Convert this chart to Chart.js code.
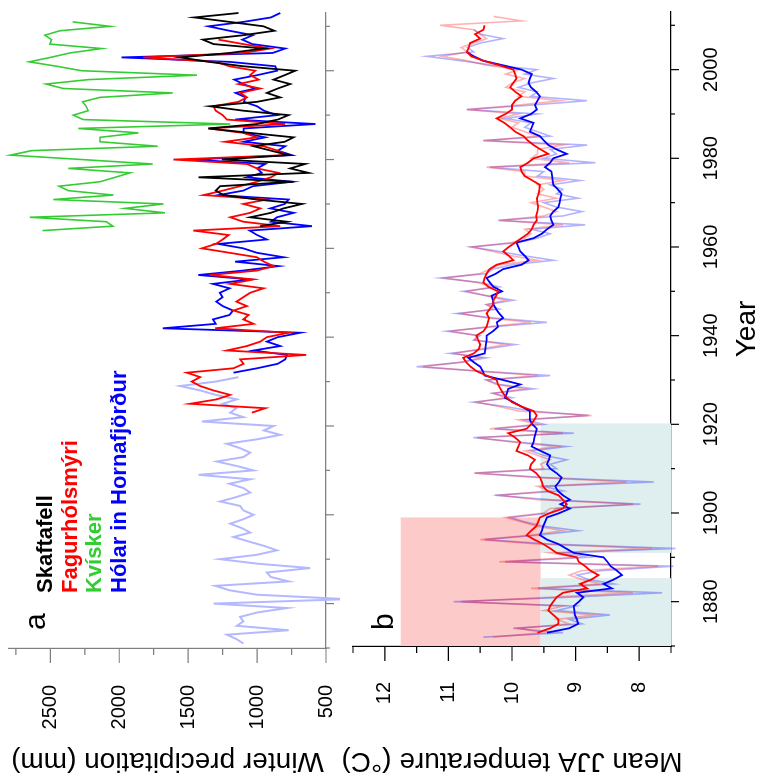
<!DOCTYPE html>
<html>
<head>
<meta charset="utf-8">
<title>Winter precipitation and JJA temperature</title>
<script src="https://cdn.jsdelivr.net/npm/chart.js@4.4.0/dist/chart.umd.min.js"></script>
<style>
  html, body { margin: 0; padding: 0; background: #fff; overflow: hidden; }
  /* figure is laid out landscape and turned a quarter turn, like the printed page */
  #fig {
    position: absolute; left: 0; top: 0;
    width: 779px; height: 759px;
    transform-origin: 0 0;
    transform: translate(0, 779px) rotate(-90deg);
  }
  #fig canvas { position: absolute; left: 0; }
</style>
</head>
<body>
<div id="fig">
  <canvas id="precipChart" width="779" height="340" style="top:0"></canvas>
  <canvas id="tempChart" width="779" height="419" style="top:340px"></canvas>
</div>
<script>
// ---- axis ticks ----
const yearTicks = [1870, 1880, 1890, 1900, 1910, 1920, 1930, 1940, 1950, 1960, 1970, 1980, 1990, 2000, 2010];
const yearLabels = [1880, 1900, 1920, 1940, 1960, 1980, 2000];
const precipTicks = [500, 750, 1000, 1250, 1500, 1750, 2000, 2250, 2500, 2750];
const precipLabels = [500, 1000, 1500, 2000, 2500];
const tempTicks = [7.5, 8, 8.5, 9, 9.5, 10, 10.5, 11, 11.5, 12, 12.5];
const tempLabels = [8, 9, 10, 11, 12];

// ---- panel a: winter precipitation (mm), one value per year ----
const skaftafellStart = 1965;
const skaftafell = [
  977, 783, 1050, 900, 808,
  674, 1000, 1244, 1300, 1268, 735, 1425, 626, 759, 650,
  1256, 771, 900, 1026, 800, 735, 1050, 1353, 1000, 850,
  771, 1100, 1341, 1000, 832, 929, 850, 759, 880, 800,
  723, 1100, 1350, 1559, 1200, 953, 1316, 1394, 1100, 875,
  953, 1200, 1454, 1135
];

const fagurStart = 1923;
const fagurholsmyri = [
  1038, 941, 1486, 1292, 1195, 1316, 1413,
  1474, 1413, 1510, 1171, 1098, 1123, 643, 1219, 1074, 977,
  929, 771, 1304, 1026, 1100, 1062, 1171, 1074, 1150, 1100,
  1050, 953, 1195, 1026, 1341, 1000, 880, 950, 1001, 1200,
  1401, 1300, 1250, 1207, 1462, 832, 1100, 1195, 1050, 977,
  1100, 929, 1389, 1250, 1123, 1000, 900, 844, 1000, 1074,
  1607, 783, 850, 953, 1232, 1001, 1100, 1353, 796, 1219,
  1250, 1300, 1316, 1135, 1074, 1123, 977, 1135, 989, 1050,
  1013, 1200, 1300, 1825, 1100, 904, 1100, 1280
];

const kviskerStart = 1964;
const kvisker = [
  2557, 2046, 2095, 2649, 1668, 1958,
  1680, 2479, 2043, 2370, 2436, 2140, 2030, 1922, 2370, 1757,
  2270, 2789, 2637, 1721, 2140, 2140, 1861, 2297, 1195, 2261,
  2334, 2225, 2240, 2266, 2140, 1612, 2406, 2532, 2225, 1437,
  2273, 2450, 2654, 2500, 2358, 2128, 2503, 2491, 2540, 2431,
  2067, 2339
];

const holarStart = 1932;
const holar = [
  1171, 1000, 850, 796, 783, 1026, 832, 929,
  850, 686, 1684, 1300, 1320, 1200, 1175, 1250, 1296, 1250,
  1270, 1200, 1320, 1050, 1426, 1100, 844, 1159, 808, 1000,
  1100, 1281, 929, 1000, 1054, 602, 900, 856, 735, 905,
  800, 771, 1280, 1100, 1030, 747, 1075, 966, 1000, 941,
  1474, 747, 850, 796, 1098, 941, 1098, 1098, 577, 1159,
  856, 950, 1000, 1096, 1083, 1156, 1013, 1100, 1166, 1000,
  856, 868, 1200, 1983, 888, 796, 1035, 1108, 1030, 1200,
  1353, 1100, 900, 832
];

// older record shown faint, before the Hólar series
const earlyStart = 1871;
const earlyRecord = [
  1098, 1150, 1219, 771, 1147, 1100, 1123, 1000, 783,
  1316, 345, 1000, 1200, 1304, 771, 900, 929, 614, 1000,
  1268, 1000, 856, 950, 1062, 1171, 1050, 1110, 1195, 1100,
  1026, 1100, 1123, 1268, 1150, 1050, 1098, 1200, 1050, 1425,
  1026, 1150, 1292, 1100, 1050, 1123, 1219, 1000, 832, 950,
  880, 1401, 1100, 1195, 1150, 1250, 1147, 1300, 1413, 1559,
  1300, 1135
];

// ---- panel b: mean JJA temperature (°C) ----
const annualStart = 1872;
const redAnnual = [
  10.30, 9.50, 9.90, 9.10, 9.30, 8.70, 9.50, 9.20,
  10.80, 9.40, 8.10, 9.70, 8.60, 8.90, 9.10, 8.90, 7.70, 10.20,
  9.00, 9.40, 7.80, 9.60, 10.50, 9.70, 9.20, 9.60, 9.85, 10.10,
  9.50, 9.40, 8.10, 9.60, 10.20, 9.40, 9.60, 8.20, 9.60, 10.60,
  9.50, 9.55, 9.40, 9.60, 9.80, 9.30, 10.00, 10.55, 9.20, 10.35,
  9.60, 9.90, 8.75, 9.90, 10.20, 10.55, 10.10, 10.30, 9.80, 10.25,
  10.40, 9.60, 10.55, 11.40, 10.80, 10.50, 10.90, 10.50, 10.10, 10.60,
  10.55, 10.95, 10.40, 9.70, 10.40, 10.80, 10.30, 10.40, 10.10, 10.40,
  10.70, 10.30, 10.55, 11.05, 10.50, 10.35, 10.20, 9.60, 10.00, 10.30,
  10.64, 10.00, 9.80, 9.70, 9.80, 9.20, 10.20, 9.50, 9.30, 9.50,
  9.70, 9.30, 9.60, 9.50, 9.60, 9.20, 9.80, 9.80, 10.40, 9.10,
  9.70, 9.60, 9.60, 9.20, 10.45, 9.60, 9.80, 10.00, 9.90, 10.20,
  9.90, 10.71, 9.90, 9.24, 9.90, 9.80, 10.10, 10.00, 9.80, 10.10,
  9.90, 10.40, 10.70, 11.10, 10.70, 10.80, 10.60, 10.40, 10.50, 10.60,
  11.13, 9.85, 10.29
];
const blueAnnual = [
  10.45, 9.20, 9.98, 8.90, 9.10, 8.46, 9.30, 9.00,
  10.92, 9.10, 7.64, 9.59, 8.40, 8.80, 8.98, 8.60, 7.46, 10.11,
  8.80, 9.20, 7.43, 9.40, 10.43, 9.60, 8.96, 9.50, 9.80, 10.03,
  9.40, 9.30, 7.98, 9.40, 10.27, 9.20, 9.50, 7.77, 9.50, 10.58,
  9.30, 9.40, 9.14, 9.50, 9.70, 9.14, 9.90, 10.61, 9.03, 10.27,
  9.50, 9.80, 8.80, 9.70, 10.10, 10.61, 10.00, 10.30, 9.66, 10.20,
  10.40, 9.40, 10.50, 11.50, 10.80, 10.40, 10.98, 10.40, 9.95, 10.60,
  10.50, 11.03, 10.30, 9.45, 10.30, 10.87, 10.20, 10.40, 9.98, 10.40,
  10.77, 10.20, 10.50, 11.13, 10.40, 10.30, 10.00, 9.35, 9.80, 10.20,
  10.64, 9.90, 9.60, 9.40, 9.70, 8.85, 10.22, 9.20, 8.90, 9.30,
  9.50, 8.96, 9.30, 9.20, 9.40, 8.93, 9.60, 9.50, 10.35, 8.69,
  9.50, 9.30, 9.40, 8.82, 10.45, 9.40, 9.60, 9.80, 9.70, 10.10,
  9.60, 10.71, 9.70, 8.82, 9.70, 9.60, 9.90, 9.70, 9.35, 9.80,
  9.61, 10.30, 10.80, 11.34, 10.60, 10.70, 10.50, 10.14, 10.50, 10.60
];

const smoothStart = 1873;
const redSmooth = [
  9.60, 9.40, 9.27, 9.27, 9.35, 9.43, 9.40,
  9.35, 9.30, 9.20, 8.82, 8.93, 8.75, 8.64, 8.77, 8.85, 8.95,
  8.98, 9.30, 9.40, 9.51, 9.65, 9.77, 9.70, 9.62, 9.59, 9.56,
  9.40, 9.20, 9.14, 9.20, 9.27, 9.45, 9.51, 9.53, 9.56, 9.62,
  9.72, 9.70, 9.64, 9.75, 9.93, 9.90, 9.87, 9.95, 10.06, 9.77,
  9.70, 9.65, 9.61, 9.66, 9.85, 10.00, 10.08, 10.14, 10.18, 10.22,
  10.24, 10.40, 10.56, 10.65, 10.72, 10.77, 10.60, 10.52, 10.50, 10.53,
  10.56, 10.45, 10.40, 10.38, 10.36, 10.40, 10.35, 10.30, 10.29, 10.25,
  10.22, 10.37, 10.45, 10.43, 10.40, 10.35, 10.24, 9.98, 10.05, 10.14,
  10.05, 9.95, 9.85, 9.75, 9.69, 9.66, 9.61, 9.62, 9.60, 9.59,
  9.60, 9.61, 9.58, 9.57, 9.56, 9.68, 9.80, 9.85, 9.87, 9.75,
  9.66, 9.43, 9.55, 9.66, 9.75, 9.82, 9.95, 10.03, 10.12, 10.24,
  10.10, 10.00, 10.00, 9.95, 9.85, 9.95, 10.03, 9.98, 9.93, 9.95,
  9.98, 10.20, 10.45, 10.64, 10.71, 10.68, 10.66, 10.50, 10.58, 10.45,
  10.43
];
const blueSmooth = [
  9.45, 9.10, 8.96, 8.98, 9.01, 9.02, 9.03,
  8.95, 8.88, 8.98, 8.43, 8.56, 8.40, 8.27, 8.35, 8.45, 8.50,
  8.56, 9.03, 9.15, 9.27, 9.45, 9.56, 9.53, 9.51, 9.48, 9.45,
  9.25, 9.09, 9.24, 9.09, 9.20, 9.28, 9.32, 9.26, 9.22, 9.30,
  9.40, 9.45, 9.42, 9.40, 9.55, 9.69, 9.66, 9.65, 9.63, 9.61,
  9.68, 9.72, 9.72, 9.72, 9.85, 9.98, 10.11, 10.08, 10.06, 9.87,
  10.14, 10.43, 10.46, 10.50, 10.60, 10.69, 10.43, 10.42, 10.41, 10.40,
  10.40, 10.30, 10.22, 10.24, 10.14, 10.20, 10.25, 10.29, 10.30, 10.32,
  10.16, 10.29, 10.35, 10.40, 10.25, 10.14, 9.85, 9.74, 9.80, 9.87,
  9.90, 9.93, 9.66, 9.53, 9.45, 9.35, 9.38, 9.40, 9.35, 9.27,
  9.25, 9.24, 9.22, 9.28, 9.35, 9.36, 9.37, 9.38, 9.48, 9.40,
  9.35, 9.14, 9.30, 9.43, 9.50, 9.56, 9.72, 9.69, 9.66, 9.87,
  9.70, 9.61, 9.64, 9.60, 9.56, 9.62, 9.70, 9.74, 9.72, 9.69,
  9.85, 10.15, 10.45, 10.60, 10.71
];

// shaded periods in panel b
const warmPeriod = [1870, 1899];
const warmRange = [9.55, 11.75];
const coolPeriods = [[1870, 1885.3], [1891, 1920.2]];
const coolRange = [7.5, 9.55];

const FONT = "'Liberation Sans', Arial, Helvetica, sans-serif";
Chart.defaults.font.family = FONT;
Chart.defaults.color = '#000';

function toPoints(start, values) {
    return values.map((v, i) => ({ x: start + i, y: v }));
}

function line(label, start, values, color, width) {
    return {
        label: label,
        data: toPoints(start, values),
        borderColor: color,
        borderWidth: width,
        pointRadius: 0,
        tension: 0,
        fill: false,
        clip: false
    };
}

// tick marks drawn from the scales, long for labelled values, short otherwise
const axisTicks = {
    id: 'axisTicks',
    afterDraw(chart, args, o) {
        const { ctx, chartArea: a, scales: { x, y } } = chart;
        ctx.save();
        ctx.strokeStyle = o.color;
        ctx.lineWidth = 1.2;
        ctx.beginPath();
        o.xTicks.forEach(v => {
            const p = x.getPixelForValue(v);
            const len = o.xMajor.includes(v) ? o.xLong : o.xShort;
            ctx.moveTo(p, a.bottom);
            ctx.lineTo(p, a.bottom + len);
        });
        o.yTicks.forEach(v => {
            const p = y.getPixelForValue(v);
            const len = o.yMajor.includes(v) ? o.yLong : o.yShort;
            ctx.moveTo(a.left, p);
            ctx.lineTo(a.left - len, p);
        });
        ctx.stroke();
        ctx.restore();
    }
};

// free text: panel letters and the coloured station names
const panelText = {
    id: 'panelText',
    afterDraw(chart, args, o) {
        const ctx = chart.ctx;
        ctx.save();
        ctx.textAlign = 'left';
        ctx.textBaseline = 'alphabetic';
        o.items.forEach(t => {
            ctx.font = t.font;
            ctx.fillStyle = t.color;
            ctx.fillText(t.text, t.x, t.y);
        });
        ctx.restore();
    }
};

// background boxes behind the temperature lines
const shading = {
    id: 'shading',
    beforeDatasetsDraw(chart, args, o) {
        const { ctx, scales: { x, y } } = chart;
        ctx.save();
        o.boxes.forEach(b => {
            const x0 = x.getPixelForValue(b.years[0]);
            const x1 = x.getPixelForValue(b.years[1]);
            const yTop = y.getPixelForValue(b.range[1]);
            const yBot = y.getPixelForValue(b.range[0]);
            ctx.fillStyle = b.color;
            ctx.fillRect(x0, yTop, x1 - x0, yBot - yTop);
        });
        ctx.restore();
    }
};

const hiddenGrid = {
    display: true,
    drawOnChartArea: false,
    drawTicks: true,
    color: 'rgba(0,0,0,0)',
    tickColor: 'rgba(0,0,0,0)'
};

function noPadding(scale) {
    scale.paddingLeft = 0;
    scale.paddingRight = 0;
    scale.paddingTop = 0;
    scale.paddingBottom = 0;
}

// Panel a
new Chart(document.getElementById('precipChart'), {
    type: 'line',
    data: {
        datasets: [
            line('Skaftafell', skaftafellStart, skaftafell, '#000000', 1.8),
            line('Fagurhólsmýri', fagurStart, fagurholsmyri, '#ff0000', 1.8),
            line('Hólar in Hornafjörður', holarStart, holar, '#0000ff', 1.8),
            line('Kvísker', kviskerStart, kvisker, '#33cc33', 1.6),
            line('early record', earlyStart, earlyRecord, '#b4b8ff', 2)
        ]
    },
    options: {
        responsive: false,
        animation: false,
        events: [],
        layout: { padding: { left: 0, right: 13, top: 9, bottom: 0 } },
        plugins: {
            legend: { display: false },
            tooltip: { enabled: false },
            axisTicks: {
                color: '#7f7f7f',
                xTicks: yearTicks, xMajor: yearLabels, xLong: 8, xShort: 4,
                yTicks: precipTicks, yMajor: precipLabels, yLong: 15, yShort: 7
            },
            panelText: {
                items: [
                    { text: 'a', x: 149, y: 45, font: '30px ' + FONT, color: '#000' },
                    { text: 'Skaftafell', x: 186, y: 52, font: 'bold 22px ' + FONT, color: '#000000' },
                    { text: 'Fagurhólsmýri', x: 186, y: 77, font: 'bold 22px ' + FONT, color: '#ff0000' },
                    { text: 'Kvísker', x: 186, y: 101, font: 'bold 22px ' + FONT, color: '#33cc33' },
                    { text: 'Hólar in Hornafjörður', x: 186, y: 126, font: 'bold 22px ' + FONT, color: '#0000ff' }
                ]
            }
        },
        scales: {
            x: {
                type: 'linear',
                min: 1870,
                max: 2013,
                afterBuildTicks: s => { s.ticks = yearTicks.map(v => ({ value: v })); },
                afterFit: s => { s.height = 14; noPadding(s); },
                ticks: { display: false },
                grid: Object.assign({}, hiddenGrid, { tickLength: 8 }),
                border: { display: true, color: '#7f7f7f', width: 1.2 }
            },
            y: {
                type: 'linear',
                min: 500,
                max: 2800,
                afterBuildTicks: s => { s.ticks = precipTicks.map(v => ({ value: v })); },
                afterFit: s => { s.width = 131; noPadding(s); },
                ticks: {
                    autoSkip: false,
                    padding: 22,
                    font: { size: 20 },
                    callback: v => (precipLabels.includes(v) ? String(v) : null)
                },
                grid: Object.assign({}, hiddenGrid, { tickLength: 15 }),
                border: { display: true, color: '#7f7f7f', width: 1.2 },
                title: {
                    display: true,
                    text: 'Winter precipitation (mm)',
                    font: { size: 28, lineHeight: 1.2 },
                    padding: { top: 1, bottom: 0 }
                }
            }
        }
    },
    plugins: [axisTicks, panelText]
});

// Panel b
new Chart(document.getElementById('tempChart'), {
    type: 'line',
    data: {
        datasets: [
            line('Smoothed (red)', smoothStart, redSmooth, '#ff0000', 1.8),
            line('Smoothed (blue)', smoothStart, blueSmooth, '#0000ff', 1.8),
            line('Annual (red)', annualStart, redAnnual, 'rgba(255,0,0,0.3)', 1.6),
            line('Annual (blue)', annualStart, blueAnnual, 'rgba(0,0,255,0.3)', 1.6)
        ]
    },
    options: {
        responsive: false,
        animation: false,
        events: [],
        layout: { padding: { left: 0, right: 12, top: 13, bottom: 0 } },
        plugins: {
            legend: { display: false },
            tooltip: { enabled: false },
            shading: {
                boxes: [
                    { years: warmPeriod, range: warmRange, color: '#fdcaca' },
                    { years: coolPeriods[0], range: coolRange, color: '#dfeeee' },
                    { years: coolPeriods[1], range: coolRange, color: '#dfeeee' }
                ]
            },
            axisTicks: {
                color: '#000000',
                xTicks: yearTicks, xMajor: yearLabels, xLong: 8, xShort: 4,
                yTicks: tempTicks, yMajor: tempLabels, yLong: 15, yShort: 7
            },
            panelText: {
                items: [
                    { text: 'b', x: 149, y: 53, font: '30px ' + FONT, color: '#000' }
                ]
            }
        },
        scales: {
            x: {
                type: 'linear',
                min: 1870,
                max: 2013,
                afterBuildTicks: s => { s.ticks = yearTicks.map(v => ({ value: v })); },
                afterFit: s => { s.height = 88; noPadding(s); },
                ticks: {
                    autoSkip: false,
                    maxRotation: 0,
                    padding: 20,
                    font: { size: 20 },
                    callback: v => (yearLabels.includes(v) ? String(v) : null)
                },
                grid: Object.assign({}, hiddenGrid, { tickLength: 8 }),
                border: { display: true, color: '#000000', width: 1.2 },
                title: {
                    display: true,
                    text: 'Year',
                    font: { size: 28, lineHeight: 0.86 },
                    padding: { top: 0, bottom: 0 }
                }
            },
            y: {
                type: 'linear',
                min: 7.5,
                max: 12.5,
                afterBuildTicks: s => { s.ticks = tempTicks.map(v => ({ value: v })); },
                afterFit: s => { s.width = 133; noPadding(s); },
                ticks: {
                    autoSkip: false,
                    padding: 21,
                    font: { size: 20 },
                    callback: v => (tempLabels.includes(v) ? String(v) : null)
                },
                grid: Object.assign({}, hiddenGrid, { tickLength: 15 }),
                border: { display: true, color: '#000000', width: 1.2 },
                title: {
                    display: true,
                    text: 'Mean JJA temperature (°C)',
                    font: { size: 28, lineHeight: 1.2 },
                    padding: { top: 1, bottom: 0 }
                }
            }
        }
    },
    plugins: [shading, axisTicks, panelText]
});
</script>
</body>
</html>
